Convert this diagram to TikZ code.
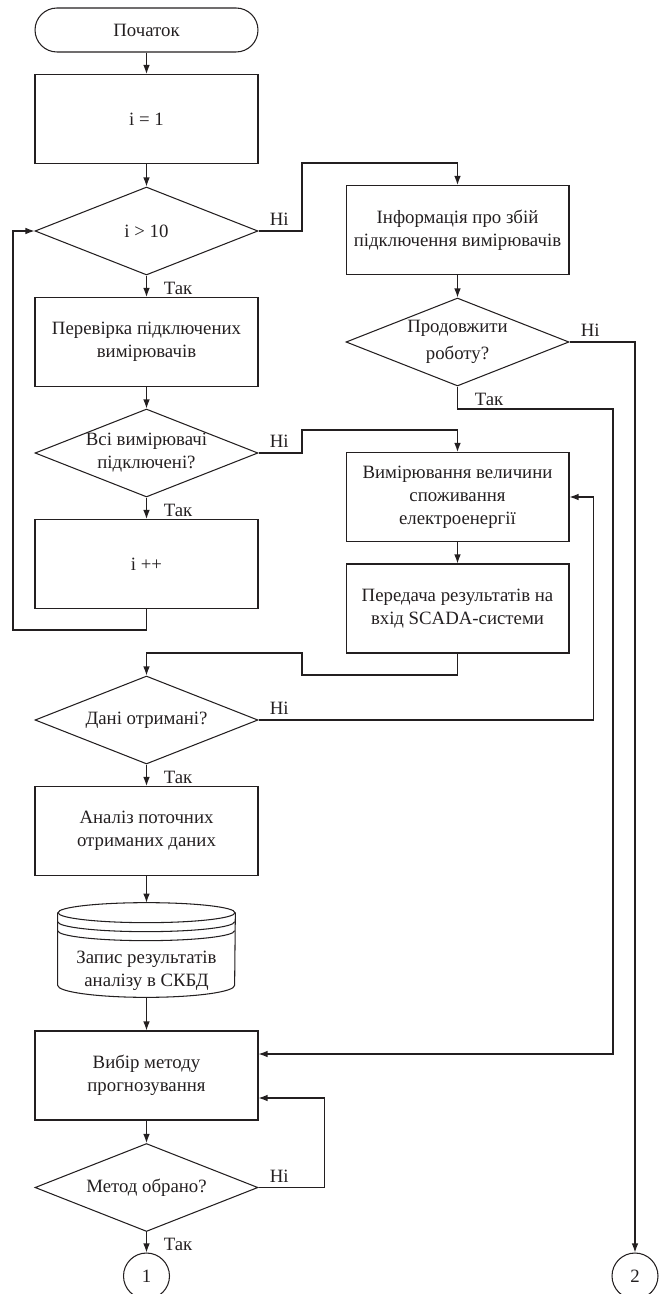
\documentclass[tikz,border=0pt]{standalone}
\usepackage{fontspec}
\setmainfont{Liberation Serif}
\usetikzlibrary{arrows.meta,shapes.geometric}
\definecolor{Ink}{HTML}{231F20}
\tikzset{
 block/.style={draw=Ink, line width=0.6pt, minimum width=4.46cm, minimum height=1.78cm, align=center, inner sep=2pt, text=Ink, font=\fontsize{10.7}{13}\selectfont},
 termblock/.style={block, rounded corners=0.44cm, minimum height=0.88cm},
 decision/.style={block, diamond, aspect=2.53, inner sep=0pt, minimum height=1.76cm},
 dbblock/.style={minimum width=3.54cm, minimum height=1.88cm, inner sep=0pt},
 joint/.style={block, circle, minimum width=0.92cm, minimum height=0.92cm, inner sep=0pt},
 arrow/.style={-{Latex[length=1.8mm,width=1.3mm]}, line width=0.6pt, draw=Ink},
 line/.style={line width=0.6pt, draw=Ink},
 nolabel/.style={anchor=south west, inner sep=1pt, xshift=0.18cm, yshift=0.06cm, text=Ink, font=\fontsize{10.7}{13}\selectfont},
 yeslabel/.style={anchor=north west, inner sep=1pt, xshift=0.3cm, yshift=-0.08cm, text=Ink, font=\fontsize{10.7}{13}\selectfont}
}

\begin{document}
\begin{tikzpicture}[x=0.02cm,y=-0.02cm]
\useasboundingbox (0,0) rectangle (667,1294);

\node[termblock] (start) at (146.5,30) {Початок};
\node[block] (init) at (146.5,119) {i = 1};
\node[decision] (cond) at (146.5,231) {i > 10};
\node[block] (check) at (146.5,342) {Перевірка підключених\\вимірювачів};
\node[decision] (allon) at (146.5,453) {Всі вимірювачі\\підключені?};
\node[block] (inc) at (146.5,564) {i ++};
\node[block] (info) at (457.5,230) {Інформація про збій\\підключення вимірювачів};
\node[decision] (cont) at (457.5,342) {Продовжити\\[2pt]роботу?};
\node[block] (measure) at (457.5,497) {Вимірювання величини\\споживання\\електроенергії};
\node[block] (send) at (457.5,608.5) {Передача результатів на\\вхід SCADA-системи};
\node[decision] (got) at (146.5,720) {Дані отримані?};
\node[block] (analyse) at (146.5,831) {Аналіз поточних\\отриманих даних};
\node[dbblock] (db) at (146.5,950) {};
\node[block, draw=none, minimum height=0pt] (dbtext) at (146.5,971) {Запис результатів\\аналізу в СКБД};
\node[block] (choose) at (146.5,1075.5) {Вибір методу\\прогнозування};
\node[decision] (picked) at (146.5,1187.5) {Метод обрано?};
\node[joint] (one) at (146.5,1276) {1};
\node[joint] (two) at (635,1276) {2};

\draw[line] ([yshift=-0.2cm]db.north) ellipse [x radius=1.77cm, y radius=0.2cm];
\draw[line] ([yshift=-0.2cm]db.north west) -- ([yshift=0.24cm]db.south west) arc[start angle=180, end angle=360, x radius=1.77cm, y radius=0.24cm] -- ([yshift=-0.2cm]db.north east);
\foreach \d in {0.38,0.56}
 \draw[line] ([yshift=-\d cm]db.north west) arc[start angle=180, end angle=360, x radius=1.77cm, y radius=0.2cm];

\coordinate (nobend1) at (302,163);
\coordinate (nobend2) at (302,430);
\coordinate (yesbend) at (613,409);
\coordinate (loopback) at (13,630);
\coordinate (sendbend1) at (302,675);
\coordinate (sendbend2) at (302,653);

\draw[arrow] (start) -- (init);
\draw[arrow] (init) -- (cond);
\draw[arrow] (cond.south) node[yeslabel] {Так} -- (check);
\draw[arrow] (check) -- (allon);
\draw[arrow] (allon.south) node[yeslabel] {Так} -- (inc);
\draw[arrow] (inc.south) |- (loopback) |- (cond.west);
\draw[arrow] (cond.east) node[nolabel] {Ні} -| (nobend1) -| (info.north);
\draw[arrow] (info) -- (cont);
\draw[arrow] (cont.east) node[nolabel] {Ні} -| (two.north);
\draw[arrow] (cont.south) node[yeslabel] {Так} |- (yesbend) |- ([yshift=0.43cm]choose.east);
\draw[arrow] (allon.east) node[nolabel] {Ні} -| (nobend2) -| (measure.north);
\draw[arrow] (measure) -- (send);
\draw[arrow] (send.south) |- (sendbend1) -- (sendbend2) -| (got.north);
\draw[arrow] (got.east) node[nolabel] {Ні} -| ([xshift=0.48cm]measure.east) -- (measure.east);
\draw[arrow] (got.south) node[yeslabel] {Так} -- (analyse);
\draw[arrow] (analyse) -- (db.north);
\draw[arrow] (db.south) -- (choose);
\draw[arrow] (choose) -- (picked);
\draw[arrow] (picked.east) node[nolabel] {Ні} -| ([xshift=1.32cm,yshift=-0.45cm]choose.east) -- ([yshift=-0.45cm]choose.east);
\draw[arrow] (picked.south) node[yeslabel] {Так} -- (one);
\end{tikzpicture}
\end{document}
